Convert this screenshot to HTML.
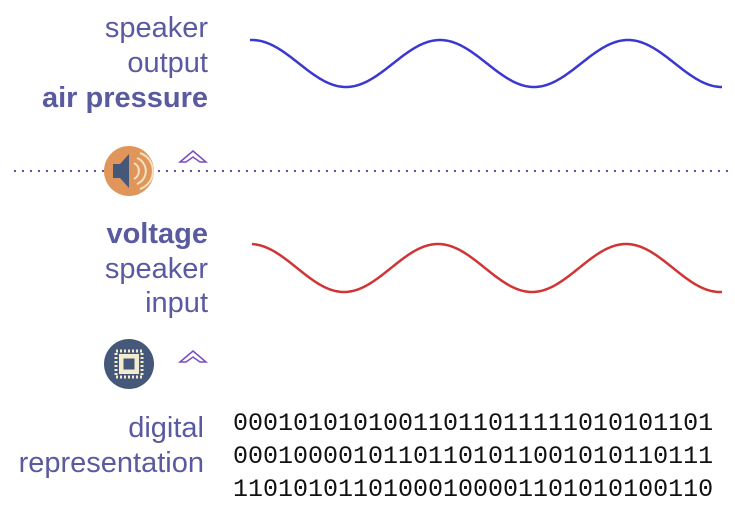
<!DOCTYPE html>
<html><head><meta charset="utf-8"><style>
html,body{margin:0;padding:0;background:#fff;width:735px;height:514px;overflow:hidden}
svg text{font-family:"Liberation Sans",sans-serif;fill:#5a5aa0;font-size:29px}
</style></head><body>
<svg width="735" height="514" viewBox="0 0 735 514" xmlns="http://www.w3.org/2000/svg">
<g text-anchor="end">
<text x="208" y="37">speaker</text>
<text x="208" y="72">output</text>
<text x="208" y="107" font-weight="bold">air pressure</text>
<text x="208" y="243" font-weight="bold">voltage</text>
<text x="208" y="278">speaker</text>
<text x="208" y="312">input</text>
<text x="204" y="437">digital</text>
<text x="204" y="472">representation</text>
</g>
<path id="w1" fill="none" stroke="#3b38d0" stroke-width="2.5"/>
<path id="w2" fill="none" stroke="#d03434" stroke-width="2.5"/>
<line x1="14" y1="171" x2="730" y2="171" stroke="#6a4aa8" stroke-width="2" stroke-dasharray="2,6"/>
<circle cx="129" cy="171" r="25" fill="#e0955a"/>
<path d="M113 164 h7 l9 -10 v34 l-9 -10 h-7z" fill="#46587a"/>
<path d="M134 163 a9 9 0 0 1 0 16 M137 158 a14 14 0 0 1 0 26 M140 153 a19 19 0 0 1 0 36" fill="none" stroke="#f3e3c0" stroke-width="2"/>
<circle cx="129" cy="364" r="25" fill="#46587a"/>
<rect x="116" y="351" width="26" height="26" fill="none" stroke="#f3eccf" stroke-width="3" stroke-dasharray="2,2"/>
<rect x="119" y="354" width="20" height="20" fill="#f3eccf"/>
<rect x="123" y="358" width="12" height="12" fill="#46587a" stroke="#f3eccf"/>
<path d="M180 162 l13 -11 l13 11 l-6 0 l-7 -5 l-7 5z" fill="none" stroke="#7a4cc0" stroke-width="1.5"/>
<path d="M180 362 l13 -11 l13 11 l-6 0 l-7 -5 l-7 5z" fill="none" stroke="#7a4cc0" stroke-width="1.5"/>
<text x="233" y="430" style="font-family:'Liberation Mono',monospace;fill:#111;font-size:25px">00010101010011011011111010101101</text>
<text x="233" y="463" style="font-family:'Liberation Mono',monospace;fill:#111;font-size:25px">00010000101101101011001010110111</text>
<text x="233" y="496" style="font-family:'Liberation Mono',monospace;fill:#111;font-size:25px">11010101101000100001101010100110</text>
</svg>
<script>
function wave(id,x0,x1,yc,a,p0){var d="";for(var x=x0;x<=x1;x+=2){var y=yc-a*Math.cos(2*Math.PI*(x-p0)/188);d+=(x==x0?"M":"L")+x+" "+y.toFixed(2)+" ";}document.getElementById(id).setAttribute("d",d);}
wave("w1",250,722,63.5,23.5,252);
wave("w2",252,722,268,24,250);
</script>
</body></html>
